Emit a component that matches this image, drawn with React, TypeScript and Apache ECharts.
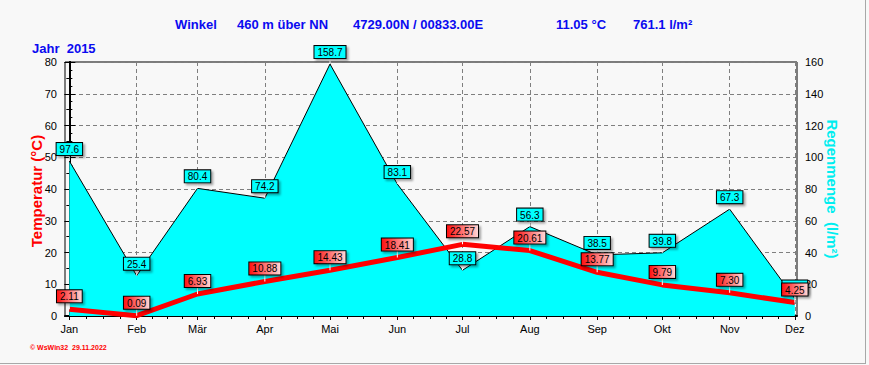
import React, { useEffect, useRef } from "react";
import * as echarts from "echarts";

const months = ["Jan", "Feb", "Mär", "Apr", "Mai", "Jun", "Jul", "Aug", "Sep", "Okt", "Nov", "Dez"];
const monthDay = [0, 31, 59, 90, 120, 151, 181, 212, 243, 273, 304, 334];
const temperature = [2.11, 0.09, 6.93, 10.88, 14.43, 18.41, 22.57, 20.61, 13.77, 9.79, 7.3, 4.25];
const rainfall = [97.6, 25.4, 80.4, 74.2, 158.7, 83.1, 28.8, 56.3, 38.5, 39.8, 67.3, 11.0];

const titleParts = [
  { text: "Winkel", x: 175 },
  { text: "460 m über NN", x: 237 },
  { text: "4729.00N / 00833.00E", x: 353 },
  { text: "11.05 °C", x: 556 },
  { text: "761.1 l/m²", x: 633 },
];
const yearText = "Jahr  2015";
const leftAxisName = "Temperatur (°C)";
const rightAxisName = "Regenmenge  (l/m²)";
const footerText = "© WsWin32  29.11.2022";

const FONT = "'Liberation Sans', Arial, Helvetica, sans-serif";

const quarterTicks: number[] = [];
for (let i = 0; i < monthDay.length - 1; i++) {
  for (let k = 0; k < 4; k++) {
    quarterTicks.push(monthDay[i] + (k * (monthDay[i + 1] - monthDay[i])) / 4);
  }
}
quarterTicks.push(monthDay[monthDay.length - 1]);

export default function App() {
  const ref = useRef<HTMLDivElement>(null);

  useEffect(() => {
    document.body.style.margin = "0";
    if (!ref.current) return;
    const chart = echarts.init(ref.current, undefined, { renderer: "svg" });

    const labelCommon = {
      show: true,
      position: "top",
      distance: 0,
      fontFamily: FONT,
      fontSize: 10,
      lineHeight: 11,
      color: "#000",
      borderColor: "#000",
      borderWidth: 1,
      padding: [1, 3, 0, 3],
      shadowColor: "rgba(0,0,0,0.35)",
      shadowOffsetX: 2,
      shadowOffsetY: 2,
      shadowBlur: 2,
    };

    const dashed = { color: "#7f7f7f", width: 1, type: [4, 3] };

    const option: any = {
      animation: false,
      backgroundColor: "#f8f8f8",
      grid: {
        left: 65,
        right: 72,
        top: 62,
        bottom: 49,
        show: true,
        borderColor: "#000",
        borderWidth: 1,
        backgroundColor: "transparent",
        outerBoundsMode: "none",
        containLabel: false,
      },
      xAxis: [
        {
          type: "value",
          min: -2,
          max: 335,
          position: "bottom",
          axisLine: { show: true, onZero: false, lineStyle: { color: "#000", width: 2 } },
          axisTick: { show: true, length: 4, customValues: monthDay, lineStyle: { color: "#000" } },
          axisLabel: {
            show: true,
            customValues: monthDay,
            margin: 7,
            fontFamily: FONT,
            fontSize: 11,
            color: "#000",
            formatter: (v: number) => {
              const i = monthDay.indexOf(Math.round(v));
              return i >= 0 ? months[i] : "";
            },
          },
          splitLine: { show: true, lineStyle: dashed },
        },
        {
          type: "value",
          min: -2,
          max: 335,
          position: "bottom",
          axisLine: { show: false, onZero: false },
          axisTick: { show: true, length: 3, customValues: quarterTicks, lineStyle: { color: "#000" } },
          axisLabel: { show: false },
          splitLine: { show: false },
        },
      ],
      yAxis: [
        {
          type: "value",
          min: 0,
          max: 80,
          interval: 10,
          position: "left",
          axisLine: { show: true, lineStyle: { color: "#000", width: 2 } },
          axisTick: { show: true, length: 5, lineStyle: { color: "#000" } },
          minorTick: { show: true, splitNumber: 2, length: 3, lineStyle: { color: "#000" } },
          axisLabel: { margin: 8, fontFamily: FONT, fontSize: 11, color: "#000" },
          splitLine: { show: true, lineStyle: dashed },
        },
        {
          type: "value",
          min: 0,
          max: 160,
          interval: 20,
          position: "right",
          axisLine: { show: true, lineStyle: { color: "#000", width: 2 } },
          axisTick: { show: true, length: 6, lineStyle: { color: "#000" } },
          minorTick: { show: true, splitNumber: 4, length: 3, lineStyle: { color: "#000" } },
          axisLabel: { margin: 8, fontFamily: FONT, fontSize: 11, color: "#000" },
          splitLine: { show: false },
        },
      ],
      series: [
        {
          name: "Regenmenge",
          type: "line",
          xAxisIndex: 0,
          yAxisIndex: 1,
          z: 2,
          silent: true,
          data: rainfall.map((v, i) => [monthDay[i], v]),
          lineStyle: { color: "#000", width: 1 },
          areaStyle: { color: "#00ffff", opacity: 1 },
          symbol: "rect",
          symbolSize: [1, 6],
          symbolOffset: [0, -3],
          showSymbol: true,
          itemStyle: { color: "#ffffff" },
          label: {
            ...labelCommon,
            backgroundColor: "#00ffff",
            formatter: (p: any) => Number(p.value[1]).toFixed(1),
          },
          emphasis: { disabled: true },
        },
        {
          name: "Temperatur",
          type: "line",
          xAxisIndex: 0,
          yAxisIndex: 0,
          z: 3,
          silent: true,
          data: temperature.map((v, i) => [monthDay[i], v]),
          lineStyle: { color: "#ff0000", width: 5 },
          symbol: "rect",
          symbolSize: [1, 7],
          symbolOffset: [0, -3.5],
          showSymbol: true,
          itemStyle: { color: "#ffffff" },
          label: {
            ...labelCommon,
            backgroundColor: new echarts.graphic.LinearGradient(0, 0, 1, 0, [
              { offset: 0, color: "#ff1010" },
              { offset: 1, color: "#ffd6d6" },
            ]),
            formatter: (p: any) => Number(p.value[1]).toFixed(2),
          },
          emphasis: { disabled: true },
        },
      ],
      graphic: [
        ...titleParts.map((t) => ({
          type: "text",
          x: t.x,
          y: 24,
          silent: true,
          style: {
            text: t.text,
            fill: "#0a0af0",
            font: `bold 13px ${FONT}`,
            textAlign: "left",
            textVerticalAlign: "middle",
            verticalAlign: "middle",
          },
        })),
        {
          type: "text",
          x: 32,
          y: 48,
          silent: true,
          style: {
            text: yearText,
            fill: "#0a0af0",
            font: `bold 13px ${FONT}`,
            textAlign: "left",
            textVerticalAlign: "middle",
            verticalAlign: "middle",
          },
        },
        {
          type: "text",
          x: 36,
          y: 191,
          rotation: Math.PI / 2,
          silent: true,
          style: {
            text: leftAxisName,
            fill: "#ff0000",
            font: `bold 15px ${FONT}`,
            textAlign: "center",
            textVerticalAlign: "middle",
            verticalAlign: "middle",
          },
        },
        {
          type: "text",
          x: 832,
          y: 189,
          rotation: -Math.PI / 2,
          silent: true,
          style: {
            text: rightAxisName,
            fill: "#00eef0",
            font: `bold 15px ${FONT}`,
            textAlign: "center",
            textVerticalAlign: "middle",
            verticalAlign: "middle",
          },
        },
        {
          type: "text",
          x: 30,
          y: 347,
          silent: true,
          style: {
            text: footerText,
            fill: "#ff0000",
            font: `bold 7px ${FONT}`,
            textAlign: "left",
            textVerticalAlign: "middle",
            verticalAlign: "middle",
          },
        },
        {
          type: "line",
          silent: true,
          shape: { x1: 865.5, y1: 0, x2: 865.5, y2: 364 },
          style: { stroke: "#a8a8a8", lineWidth: 1 },
        },
        {
          type: "line",
          silent: true,
          shape: { x1: 0, y1: 363.5, x2: 866, y2: 363.5 },
          style: { stroke: "#a8a8a8", lineWidth: 1 },
        },
      ],
    };

    chart.setOption(option);
    return () => {
      chart.dispose();
    };
  }, []);

  return (
    <div
      ref={ref}
      style={{ position: "absolute", left: 0, top: 0, width: 869, height: 365, background: "#f8f8f8" }}
    />
  );
}
